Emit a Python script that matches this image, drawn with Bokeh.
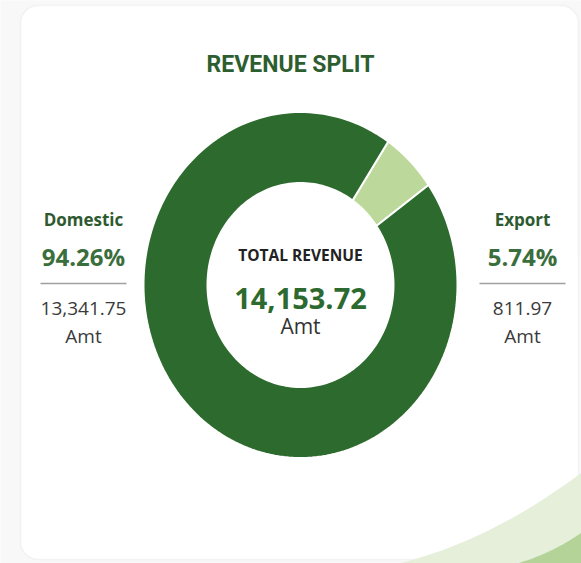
import numpy as np
from bokeh.plotting import figure
from bokeh.models import Label, BoxAnnotation, ColumnDataSource, Range1d
from bokeh.embed import file_html
from bokeh.resources import INLINE

# ---- data ----
categories = ["Domestic", "Export"]
amounts = [13341.75, 811.97]
unit = "Amt"
title_text = "REVENUE SPLIT"
center_title = "TOTAL REVENUE"

total = sum(amounts)
shares = [a / total for a in amounts]

W, H = 581, 563
p = figure(width=W, height=H, output_backend="svg", toolbar_location=None,
           x_range=Range1d(0, W), y_range=Range1d(0, H), min_border=0)
p.axis.visible = False
p.grid.visible = False
p.outline_line_color = None
p.background_fill_color = "#f8f8f8"
p.border_fill_color = "#f8f8f8"

def X(px):
    return px
def Y(py):
    return H - py
def YL(py):  # label baseline placement
    return H - py + 8

# card
card = BoxAnnotation(left=X(20), right=X(578), top=Y(5), bottom=Y(559),
                     fill_color="white", fill_alpha=1, line_color="#dedede",
                     line_width=1.5, border_radius=18, level="underlay")
p.add_layout(card)

# decorative swoosh bottom-right
def qbez(p0, p1, p2, n=60):
    t = np.linspace(0, 1, n)
    x = (1 - t) ** 2 * p0[0] + 2 * (1 - t) * t * p1[0] + t ** 2 * p2[0]
    y = (1 - t) ** 2 * p0[1] + 2 * (1 - t) * t * p1[1] + t ** 2 * p2[1]
    return x, y

sx, sy = qbez((X(385), Y(566)), (X(485), Y(545)), (X(584), Y(470)))
p.patch(list(sx) + [X(584)], list(sy) + [Y(566)], fill_color="#e5efd9", line_color=None)
sx2, sy2 = qbez((X(505), Y(566)), (X(548), Y(556)), (X(584), Y(530)))
p.patch(list(sx2) + [X(584)], list(sy2) + [Y(566)], fill_color="#b4d398", line_color=None)

# donut (elliptical, drawn as patches from data shares)
cx, cy = X(300), Y(284.5)
rxo, ryo = 157, 173
rxi, ryi = 93, 102
colors = ["#2d6a2d", "#bcd89b"]
start_deg = 34.0  # clockwise from 12 o'clock where Export begins
order = [1, 0]
xs, ys, cols = [], [], []
a0 = np.radians(start_deg)
for i in order:
    span = shares[i] * 2 * np.pi
    t = np.linspace(a0, a0 + span, 200)
    ox = cx + rxo * np.sin(t)
    oy = cy + ryo * np.cos(t)
    ix = cx + rxi * np.sin(t[::-1])
    iy = cy + ryi * np.cos(t[::-1])
    xs.append(list(ox) + list(ix))
    ys.append(list(oy) + list(iy))
    cols.append(colors[i])
    a0 += span
src = ColumnDataSource(dict(xs=xs, ys=ys, color=cols))
p.patches("xs", "ys", source=src, fill_color="color", line_color="white", line_width=2)

def lab(x, y, text, size, color, bold=False, font="Open Sans"):
    p.add_layout(Label(x=X(x), y=YL(y), text=text, text_font=font,
                       text_font_size=f"{size}px", text_color=color,
                       text_font_style="bold" if bold else "normal",
                       text_align="center", text_baseline="alphabetic"))

# title
lab(290, 72, title_text, 23, "#2d5e2f", bold=True, font="Roboto")

# side panels
sides = [(83, 0), (522, 1)]
for xc, i in sides:
    lab(xc, 227, categories[i], 17, "#2e5a30", bold=True)
    lab(xc, 264, f"{shares[i]*100:.2f}%", 24, "#3a6e3c", bold=True)
    p.line([X(xc - 43), X(xc + 43)], [Y(283), Y(283)], line_color="#a0a0a0", line_width=1.5)
    lab(xc, 316, f"{amounts[i]:,.2f}", 19, "#3a3a3a")
    lab(xc, 343, unit, 19, "#3a3a3a")

# center
lab(300, 262, center_title, 15.5, "#222222", bold=True)
lab(300, 306, f"{total:,.2f}", 29, "#2c6a2f", bold=True)
lab(300, 333, unit, 21, "#333333")

open("out.html", "w").write(file_html(p, INLINE))
